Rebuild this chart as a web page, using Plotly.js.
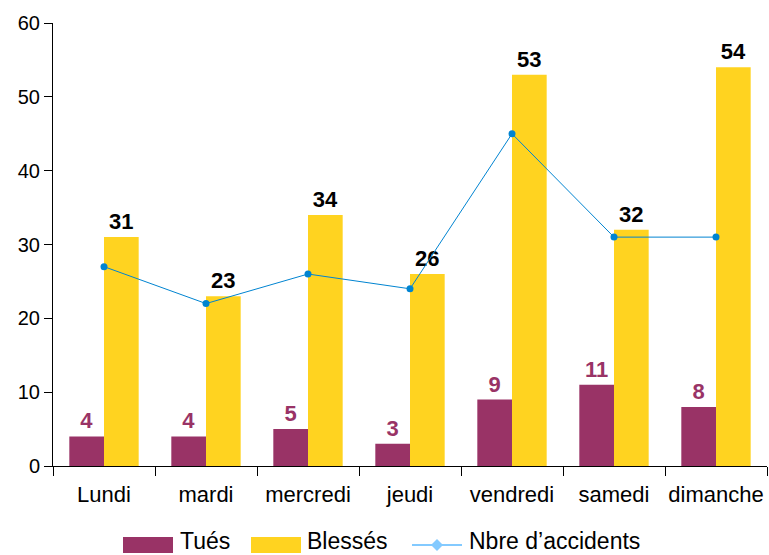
<!DOCTYPE html>
<html><head><meta charset="utf-8">
<script src="https://cdn.plot.ly/plotly-3.0.1.min.js"></script>
<style>html,body{margin:0;padding:0;background:#fff}</style>
</head><body>
<div id="chart" style="width:769px;height:555px"></div>
<script>
const jours = ["Lundi","mardi","mercredi","jeudi","vendredi","samedi","dimanche"];
const tues = [4,4,5,3,9,11,8];
const blesses = [31,23,34,26,53,32,54];
const accidents = [27,22,26,24,45,31,31];
const legendNames = ["Tués","Blessés","Nbre d’accidents"];

const font = "Liberation Sans, Arial, sans-serif";
const W = 769, H = 555;
const M = {l:53, r:2, t:23, b:89};
const pw = W - M.l - M.r, ph = H - M.t - M.b;
const px = x => (x - M.l) / pw;
const py = y => (H - M.b - y) / ph;

const traces = [
  {type:"bar", name:legendNames[0], x:jours, y:tues, marker:{color:"#993366"},
   text:tues.map(String), textposition:"outside", cliponaxis:false, showlegend:false,
   textfont:{family:font, size:22, color:"#993366", weight:"bold"}},
  {type:"bar", name:legendNames[1], x:jours, y:blesses, marker:{color:"#FFD320"},
   text:blesses.map(String), textposition:"outside", cliponaxis:false, showlegend:false,
   textfont:{family:font, size:22, color:"#000000", weight:"bold"}},
  {type:"scatter", mode:"lines+markers", name:legendNames[2], x:jours, y:accidents,
   line:{color:"#0084D1", width:1}, marker:{color:"#0084D1", size:7}, showlegend:false, cliponaxis:false}
];

const shapes = [
  {type:"rect", xref:"paper", yref:"paper", x0:px(123), x1:px(173), y0:py(553), y1:py(537),
   fillcolor:"#993366", line:{width:0}},
  {type:"rect", xref:"paper", yref:"paper", x0:px(251), x1:px(301), y0:py(553), y1:py(537),
   fillcolor:"#FFD320", line:{width:0}},
  {type:"line", xref:"paper", yref:"paper", x0:px(412), x1:px(462), y0:py(545), y1:py(545),
   line:{color:"#83CAFF", width:2}},
  {type:"path", xref:"paper", yref:"paper",
   path:`M ${px(437)} ${py(539)} L ${px(443)} ${py(545)} L ${px(437)} ${py(551)} L ${px(431)} ${py(545)} Z`,
   fillcolor:"#83CAFF", line:{width:0}}
];
const annFont = {family:font, size:23, color:"#000"};
const annY = py(555);
const annotations = [
  {text:legendNames[0], x:px(179), y:annY, xref:"paper", yref:"paper", xanchor:"left", yanchor:"bottom", borderpad:0, showarrow:false, font:annFont},
  {text:legendNames[1], x:px(306), y:annY, xref:"paper", yref:"paper", xanchor:"left", yanchor:"bottom", borderpad:0, showarrow:false, font:annFont},
  {text:legendNames[2], x:px(468), y:annY, xref:"paper", yref:"paper", xanchor:"left", yanchor:"bottom", borderpad:0, showarrow:false, font:annFont}
];

const layout = {
  width:W, height:H,
  margin:{l:M.l, r:M.r, t:M.t, b:M.b, autoexpand:false},
  paper_bgcolor:"#fff", plot_bgcolor:"#fff",
  font:{family:font, size:20, color:"#000"},
  barmode:"group", bargap:0.32, bargroupgap:0,
  xaxis:{showline:true, linecolor:"#000", linewidth:1, ticks:"outside", tickson:"boundaries",
         ticklen:9, tickcolor:"#000", tickfont:{size:22, family:font}, tickangle:0, ticklabelstandoff:9,
         showgrid:false, zeroline:false, automargin:false},
  yaxis:{range:[0,60], dtick:10, showline:true, linecolor:"#000", linewidth:1, ticks:"outside",
         ticklen:8, tickcolor:"#000", tickfont:{size:20, family:font}, showgrid:false, zeroline:false, automargin:false},
  showlegend:false,
  shapes:shapes, annotations:annotations
};
Plotly.newPlot("chart", traces, layout, {displayModeBar:false, staticPlot:true});
</script>
</body></html>
